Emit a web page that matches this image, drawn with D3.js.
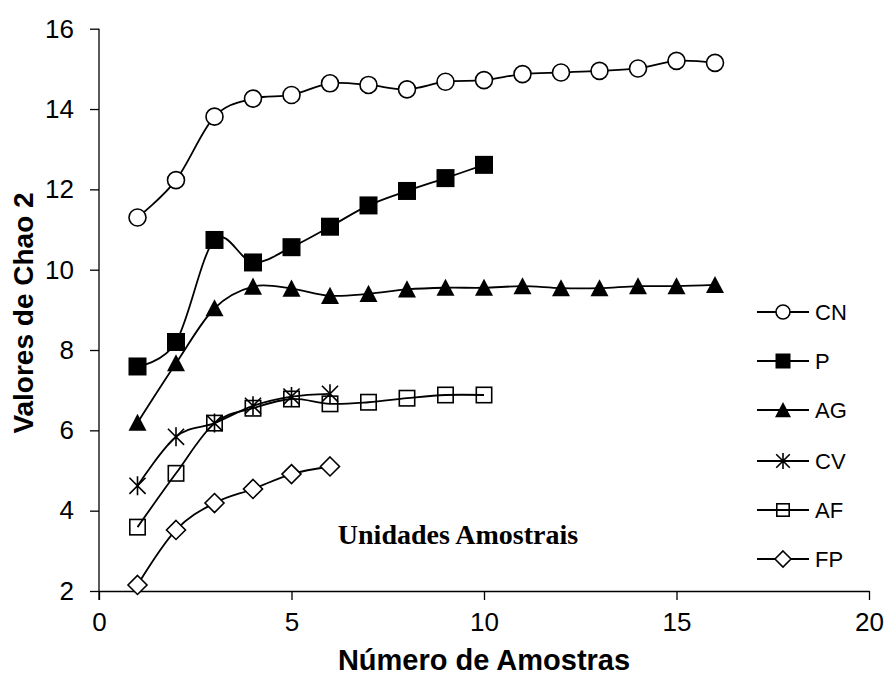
<!DOCTYPE html>
<html>
<head>
<meta charset="utf-8">
<script src="https://cdn.jsdelivr.net/npm/d3@7/dist/d3.min.js"></script>
<style>
  html, body { margin: 0; padding: 0; background: #fff; }
  svg { display: block; }
</style>
</head>
<body>
<svg id="chart" width="887" height="680"></svg>
<script>
// Chao 2 richness estimates per number of samples, one series per sampling unit
const seriesNames = ["CN", "P", "AG", "CV", "AF", "FP"];
const cnValues = [11.30, 12.23, 13.81, 14.26, 14.35, 14.64, 14.60, 14.49, 14.68, 14.72, 14.87, 14.91, 14.95, 15.01, 15.20, 15.15];
const pValues  = [7.59, 8.20, 10.74, 10.18, 10.56, 11.07, 11.60, 11.96, 12.28, 12.61];
const agValues = [6.19, 7.67, 9.04, 9.58, 9.53, 9.35, 9.40, 9.51, 9.55, 9.55, 9.59, 9.54, 9.54, 9.59, 9.59, 9.62];
const cvValues = [4.62, 5.84, 6.18, 6.61, 6.84, 6.91];
const afValues = [3.59, 4.93, 6.18, 6.55, 6.78, 6.66, 6.70, 6.80, 6.88, 6.88];
const fpValues = [2.15, 3.52, 4.19, 4.54, 4.91, 5.10];
const xTicks = [0, 5, 10, 15, 20];
const yTicks = [2, 4, 6, 8, 10, 12, 14, 16];
const xTitle = "Número de Amostras";
const yTitle = "Valores de Chao 2";
const noteText = "Unidades Amostrais";

const valueLists = [cnValues, pValues, agValues, cvValues, afValues, fpValues];
const markerKinds = ["circle", "filledSquare", "triangle", "asterisk", "openSquare", "diamond"];

const svg = d3.select("#chart");
const sans = "'Liberation Sans', Arial, Helvetica, sans-serif";
const serif = "'Liberation Serif', 'Times New Roman', serif";

const x = d3.scaleLinear().domain([0, 20]).range([99, 869]);
const y = d3.scaleLinear().domain([2, 16]).range([591, 28.7]);

// Axes
const xAxis = svg.append("g")
  .attr("transform", `translate(0,${y(2)})`)
  .call(d3.axisBottom(x).tickValues(xTicks).tickSize(9).tickPadding(13).tickSizeOuter(0));
const yAxis = svg.append("g")
  .attr("transform", `translate(${x(0)},0)`)
  .call(d3.axisLeft(y).tickValues(yTicks).tickSize(9).tickPadding(16).tickSizeOuter(0));

[xAxis, yAxis].forEach(g => {
  g.select(".domain").attr("stroke", "#000").attr("stroke-width", 1.3);
  g.selectAll(".tick line").attr("stroke", "#000").attr("stroke-width", 1.3);
  g.selectAll(".tick text")
    .attr("fill", "#000")
    .style("font-family", sans)
    .style("font-size", "26px");
});
// y axis line also reaches down to the x tick length
yAxis.select(".domain").attr("d", `M0,${y(16)}V${y(2) + 9}`);

// Axis titles
svg.append("text")
  .attr("x", (x(0) + x(20)) / 2)
  .attr("y", 670)
  .attr("text-anchor", "middle")
  .style("font-family", sans)
  .style("font-weight", "bold")
  .style("font-size", "29px")
  .text(xTitle);

svg.append("text")
  .attr("transform", `translate(33,${313}) rotate(-90)`)
  .attr("text-anchor", "middle")
  .style("font-family", sans)
  .style("font-weight", "bold")
  .style("font-size", "28px")
  .text(yTitle);

svg.append("text")
  .attr("x", 458)
  .attr("y", 544)
  .attr("text-anchor", "middle")
  .style("font-family", serif)
  .style("font-weight", "bold")
  .style("font-size", "28px")
  .text(noteText);

// Marker drawing
function drawMarker(g, kind, s) {
  // s = overall marker size in px
  const h = s / 2;
  switch (kind) {
    case "circle":
      g.append("circle").attr("r", h - 0.5).attr("fill", "#fff").attr("stroke", "#000").attr("stroke-width", 1.6);
      break;
    case "filledSquare":
      g.append("rect").attr("x", -h).attr("y", -h).attr("width", s).attr("height", s).attr("fill", "#000");
      break;
    case "triangle":
      g.append("path").attr("d", `M0,${-h}L${h},${h * 0.9}L${-h},${h * 0.9}Z`).attr("fill", "#000");
      break;
    case "asterisk": {
      const a = h * 0.85;
      g.append("path")
        .attr("d", `M0,${-h}V${h}M${-a},${-a}L${a},${a}M${-a},${a}L${a},${-a}`)
        .attr("stroke", "#000").attr("stroke-width", 1.6).attr("fill", "none");
      break;
    }
    case "openSquare":
      g.append("rect").attr("x", -h + 0.8).attr("y", -h + 0.8).attr("width", s - 1.6).attr("height", s - 1.6)
        .attr("fill", "none").attr("stroke", "#000").attr("stroke-width", 1.6);
      break;
    case "diamond":
      g.append("path").attr("d", `M0,${-h}L${h},0L0,${h}L${-h},0Z`)
        .attr("fill", "#fff").attr("stroke", "#000").attr("stroke-width", 1.6);
      break;
  }
}

const plotSizes = { circle: 18, filledSquare: 18, triangle: 18, asterisk: 19, openSquare: 17, diamond: 19 };
const legendSizes = { circle: 15, filledSquare: 15, triangle: 16, asterisk: 16, openSquare: 14, diamond: 16 };

const line = d3.line()
  .x(d => x(d.n))
  .y(d => y(d.v))
  .curve(d3.curveCardinal.tension(0));

// Series lines and markers
seriesNames.forEach((name, i) => {
  const pts = valueLists[i].map((v, j) => ({ n: j + 1, v }));
  const g = svg.append("g").attr("class", "series-" + name);
  g.append("path")
    .attr("d", line(pts))
    .attr("fill", "none")
    .attr("stroke", "#000")
    .attr("stroke-width", 1.8);
  pts.forEach(p => {
    const m = g.append("g").attr("transform", `translate(${x(p.n)},${y(p.v)})`);
    drawMarker(m, markerKinds[i], plotSizes[markerKinds[i]]);
  });
});

// Legend
const legendRows = [312, 361, 410, 461, 510, 559];
seriesNames.forEach((name, i) => {
  const g = svg.append("g").attr("transform", `translate(0,${legendRows[i]})`);
  g.append("line").attr("x1", 757).attr("x2", 809).attr("y1", 0).attr("y2", 0)
    .attr("stroke", "#000").attr("stroke-width", 1.8);
  const m = g.append("g").attr("transform", "translate(783,0)");
  drawMarker(m, markerKinds[i], legendSizes[markerKinds[i]]);
  g.append("text")
    .attr("x", 815)
    .attr("y", 8)
    .style("font-family", sans)
    .style("font-size", "22px")
    .text(name);
});
</script>
</body>
</html>
